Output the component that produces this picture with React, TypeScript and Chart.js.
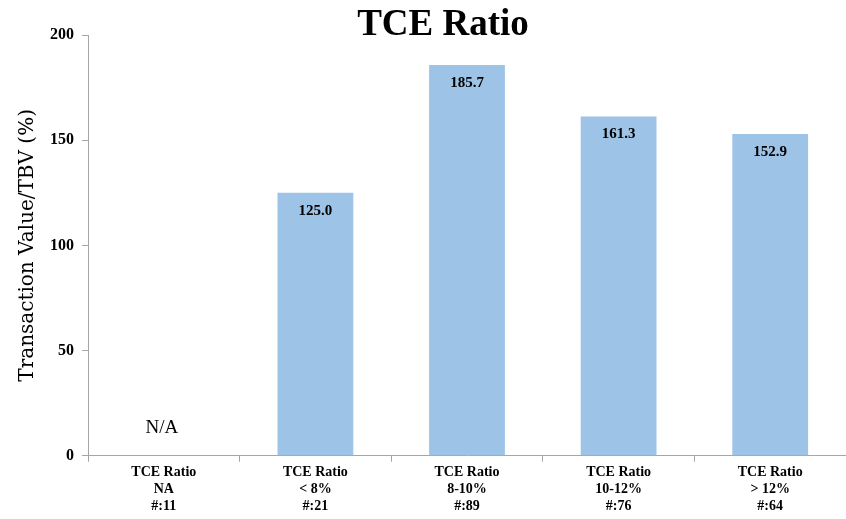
import React, { useEffect, useRef } from "react";
import { Chart, registerables } from "chart.js";

Chart.register(...registerables);

const categories: string[][] = [
  ["TCE Ratio", "NA", "#:11"],
  ["TCE Ratio", "< 8%", "#:21"],
  ["TCE Ratio", "8-10%", "#:89"],
  ["TCE Ratio", "10-12%", "#:76"],
  ["TCE Ratio", "> 12%", "#:64"],
];
const values: (number | null)[] = [null, 125.0, 185.7, 161.3, 152.9];
const yTicks: number[] = [0, 50, 100, 150, 200];
const naLabel = "N/A";
const titleText = "TCE Ratio";
const yTitle = "Transaction Value/TBV (%)";

const FONT = "'Liberation Serif', 'DejaVu Serif', serif";
const WIDE = "'DejaVu Serif', serif";

const labelPlugin = {
  id: "barLabels",
  afterDatasetsDraw(chart: any) {
    const ctx = chart.ctx;
    const meta = chart.getDatasetMeta(0);
    const xs = chart.scales.x;
    const ys = chart.scales.y;
    const area = chart.chartArea;
    ctx.save();
    ctx.textAlign = "center";
    ctx.textBaseline = "middle";
    // title
    ctx.font = `bold 37px ${FONT}`;
    ctx.fillStyle = "#000";
    ctx.fillText(titleText, (area.left + area.right) / 2 - 24, 25);
    meta.data.forEach((el: any, i: number) => {
      const v = values[i];
      if (v === null) {
        ctx.font = `19px ${FONT}`;
        ctx.fillStyle = "#000";
        ctx.fillText(naLabel, xs.getPixelForValue(i) - 2, ys.getPixelForValue(13));
        return;
      }
      ctx.font = `bold 15px ${FONT}`;
      ctx.fillStyle = "#000";
      ctx.fillText(v.toFixed(1), el.x, el.y + 18);
    });
    ctx.restore();
  },
};

export default function App() {
  const ref = useRef<HTMLCanvasElement | null>(null);
  useEffect(() => {
    document.body.style.margin = "0";
    if (!ref.current) return;
    const chart = new Chart(ref.current, {
      type: "bar",
      data: {
        labels: categories,
        datasets: [
          {
            data: values,
            backgroundColor: "#9DC3E6",
            borderWidth: 0,
            categoryPercentage: 1,
            barPercentage: 0.5,
          },
        ],
      },
      options: {
        animation: false,
        responsive: false,
        layout: { padding: { left: 16, right: 0, top: 35, bottom: 2 } },
        plugins: {
          legend: { display: false },
          tooltip: { enabled: false },
          title: { display: false },
        },
        scales: {
          x: {
            grid: {
              offset: true,
              drawOnChartArea: false,
              drawTicks: true,
              tickLength: 6,
              color: "#A6A6A6",
            },
            border: { color: "#A6A6A6", width: 1 },
            ticks: {
              color: "#000",
              font: { family: FONT, size: 14, weight: "bold", lineHeight: 1.22 },
              maxRotation: 0,
              autoSkip: false,
              padding: 2,
            },
          },
          y: {
            min: 0,
            max: 200,
            afterBuildTicks: (axis: any) => {
              axis.ticks = yTicks.map((v) => ({ value: v }));
            },
            grid: {
              drawOnChartArea: false,
              drawTicks: true,
              tickLength: 6,
              color: "#A6A6A6",
            },
            border: { color: "#A6A6A6", width: 1 },
            ticks: {
              color: "#000",
              font: { family: FONT, size: 16, weight: "bold" },
              padding: 8,
            },
            title: {
              display: true,
              text: yTitle,
              color: "#000",
              font: { family: WIDE, size: 20 },
              padding: { top: 0, bottom: 2 },
            },
          },
        },
      },
      plugins: [labelPlugin],
    });
    return () => chart.destroy();
  }, []);
  return (
    <div style={{ width: 846, height: 519 }}>
      <canvas ref={ref} width={846} height={519} style={{ display: "block" }} />
    </div>
  );
}
